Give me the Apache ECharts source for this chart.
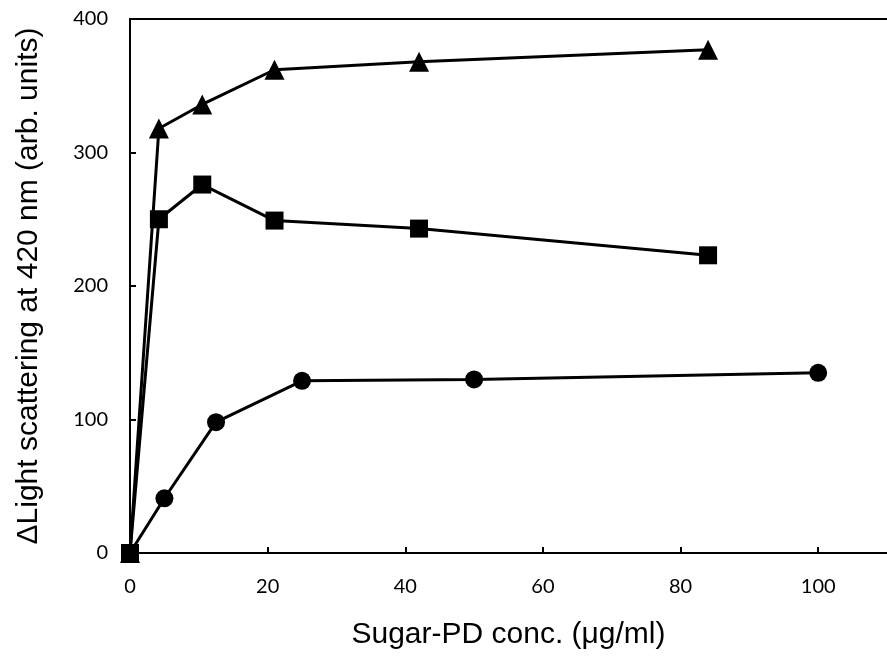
<!DOCTYPE html>
<html>
<head>
<meta charset="utf-8">
<script src="https://cdn.jsdelivr.net/npm/echarts@6/dist/echarts.min.js"></script>
<style>
  html, body { margin: 0; padding: 0; background: #fff; }
  #chart { width: 887px; height: 662px; }
</style>
</head>
<body>
<div id="chart"></div>
<script>
  // values: [conc, scattering]
  var circleData = [[0, 0], [5, 41], [12.5, 98], [25, 129], [50, 130], [100, 135]];
  var squareData = [[0, 0], [4.2, 250], [10.5, 276], [21, 249], [42, 243], [84, 223]];
  var triangleData = [[0, 0], [4.2, 318], [10.5, 336], [21, 362], [42, 368], [84, 377]];

  var xTitle = 'Sugar-PD conc. (\u03bcg/ml)';
  var yTitle = '\u0394Light scattering at 420 nm (arb. units)';

  var chart = echarts.init(document.getElementById('chart'));

  function lineSeries(name, symbol, data, size, z) {
    return {
      name: name,
      type: 'line',
      data: data,
      symbol: symbol,
      symbolSize: size,
      z: z,
      itemStyle: { color: '#000' },
      lineStyle: { color: '#000', width: 3 },
      animation: false
    };
  }

  chart.setOption({
    animation: false,
    grid: { left: 130, right: -5, top: 19, bottom: 109 },
    xAxis: [{
      type: 'value',
      min: 0,
      max: 110,
      interval: 20,
      name: xTitle,
      nameLocation: 'middle',
      nameGap: 67,
      nameTextStyle: { fontFamily: 'Liberation Sans', fontSize: 30, color: '#000' },
      axisLine: { lineStyle: { color: '#000', width: 2 } },
      axisTick: { inside: true, length: 6, lineStyle: { color: '#000', width: 2 } },
      axisLabel: {
        margin: 24, fontFamily: 'Lato', fontSize: 20, color: '#000',
        showMaxLabel: false
      },
      splitLine: { show: false }
    }, {
      type: 'value',
      position: 'top',
      min: 0,
      max: 110,
      axisLine: { show: true, lineStyle: { color: '#000', width: 2 } },
      axisTick: { show: false },
      axisLabel: { show: false },
      splitLine: { show: false }
    }],
    yAxis: {
      type: 'value',
      min: 0,
      max: 400,
      interval: 100,
      name: yTitle,
      nameLocation: 'middle',
      nameGap: 86,
      nameTextStyle: { fontFamily: 'Liberation Sans', fontSize: 30, color: '#000' },
      axisLine: { show: true, lineStyle: { color: '#000', width: 2 } },
      axisTick: { show: true, inside: true, length: 6, lineStyle: { color: '#000', width: 2 } },
      axisLabel: { margin: 22, fontFamily: 'Lato', fontSize: 20, color: '#000' },
      splitLine: { show: false }
    },
    series: [
      lineSeries('circle', 'circle', circleData, 18, 2),
      lineSeries('triangle', 'triangle', triangleData, 20, 3),
      lineSeries('square', 'rect', squareData, 18, 4)
    ]
  });
</script>
</body>
</html>
